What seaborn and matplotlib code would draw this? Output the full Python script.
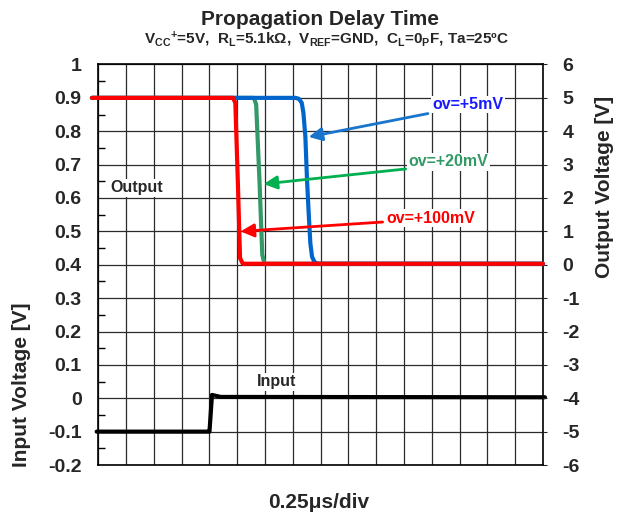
"""Propagation delay time - comparateur, entrée / sortie"""

import numpy as np
import seaborn as sns
import matplotlib.pyplot as plt
from matplotlib.ticker import MultipleLocator

# temps en divisions (0.25us/div)
t_red = [-0.23, 4.85, 4.93, 5.02, 5.1, 5.2, 16.0]
v_red = [5.0, 5.0, 4.85, 2.5, 0.2, 0.03, 0.03]

t_green = [-0.23, 5.6, 5.68, 5.8, 5.9, 5.98, 16.0]
v_green = [5.0, 5.0, 4.8, 2.5, 0.3, 0.03, 0.03]

t_blue = [-0.23, 7.1, 7.22, 7.32, 7.38, 7.45, 7.51, 7.57, 7.63, 7.69, 7.78, 7.9, 16.0]
v_blue = [5.0, 5.0, 4.97, 4.85, 4.55, 3.84, 2.54, 1.54, 0.64, 0.24, 0.08, 0.03, 0.03]

t_in = [-0.06, 3.97, 4.0, 4.09, 4.4, 16.07]
v_in = [-0.1, -0.1, -0.1, 0.01, 0.004, 0.003]

left_ticks = [-0.2, -0.1, 0, 0.1, 0.2, 0.3, 0.4, 0.5, 0.6, 0.7, 0.8, 0.9, 1]
right_ticks = [-6, -5, -4, -3, -2, -1, 0, 1, 2, 3, 4, 5, 6]

sns.set_style("white")
plt.rcParams['font.family'] = ['Liberation Sans', 'DejaVu Sans']
plt.rcParams['font.weight'] = 'bold'
plt.rcParams['mathtext.default'] = 'regular'

fig = plt.figure(figsize=(6.31, 5.18), dpi=100)
ax = fig.add_axes([0.1558, 0.1023, 0.7047, 0.7732])
ax2 = ax.twinx()

# axe gauche : entrée
ax.set_xlim(0, 16)
ax.set_ylim(-0.2, 1)
ax.set_xticks(np.arange(0, 17, 1))
ax.set_xticklabels([])
ax.set_yticks(left_ticks)
ax.set_yticklabels([f"{v:g}" for v in left_ticks], fontsize=14, fontweight='bold')
ax.yaxis.set_minor_locator(MultipleLocator(0.05))
ax.tick_params(axis='x', length=0)
ax.tick_params(axis='y', which='major', length=0, pad=12)
ax.tick_params(axis='y', which='minor', direction='in', length=5, width=1, color='black')
ax.grid(True, color='#2b2b2b', lw=0.9)
for s in ax.spines.values():
    s.set_color('black')
    s.set_linewidth(1.2)

sns.lineplot(x=t_in, y=v_in, ax=ax, color='black', lw=3, sort=False, estimator=None, clip_on=False)
ax.text(6.4, 0.05, "Input", fontsize=11.5, fontweight='bold', ha='center', va='center',
        bbox=dict(facecolor='white', edgecolor='none', pad=1))

# axe droit : sortie
ax2.set_ylim(-6, 6)
ax2.set_yticks(right_ticks)
ax2.set_yticklabels([f"{v:g}" for v in right_ticks], fontsize=14, fontweight='bold')
ax2.tick_params(axis='y', length=3, pad=11)
ax2.grid(False)
for s in ax2.spines.values():
    s.set_visible(False)

sns.lineplot(x=t_green, y=v_green, ax=ax2, color='#339966', lw=3, sort=False, estimator=None, clip_on=False)
sns.lineplot(x=t_blue, y=v_blue, ax=ax2, color='#0066cc', lw=3, sort=False, estimator=None, clip_on=False)
sns.lineplot(x=t_red, y=v_red, ax=ax2, color='#ff0000', lw=3, sort=False, estimator=None, clip_on=False)

ax2.text(1.39, 2.3, "Output", fontsize=11.5, fontweight='bold', ha='center', va='center',
         bbox=dict(facecolor='white', edgecolor='none', pad=1))

## les annotations ov=...
annots = [("ov=+5mV", (7.57, 3.83), (11.86, 4.53), (13.3, 4.8), '#1a1aff', '#1874cd'),
          ("ov=+20mV", (5.95, 2.42), (11.06, 2.87), (12.6, 3.08), '#339966', '#00b050'),
          ("ov=+100mV", (5.12, 1.0), (10.23, 1.28), (11.96, 1.4), '#ff0000', '#ff0000')]
for txt, tip, tail, pos, c_txt, c_arr in annots:
    ax2.annotate("", xy=tip, xytext=tail,
                 arrowprops=dict(arrowstyle='-|>,head_length=0.8,head_width=0.4', color=c_arr, lw=2,
                                 shrinkA=0, shrinkB=0))
    ax2.text(pos[0], pos[1], txt, color=c_txt, fontsize=11.5, fontweight='bold', ha='center', va='center',
             bbox=dict(facecolor='white', edgecolor='none', pad=1))

ax.set_ylabel("")
ax2.set_ylabel("")
fig.text(22 / 631, 1 - 385 / 518, "Input Voltage [V]", rotation=90, fontsize=15, fontweight='bold',
         ha='center', va='center')
fig.text(605 / 631, 1 - 187 / 518, "Output Voltage [V]", rotation=90, fontsize=15, fontweight='bold',
         ha='center', va='center')

fig.text(0.507, 0.963, "Propagation Delay Time", fontsize=15, fontweight='bold', ha='center', va='center')
fig.text(0.517, 0.924, r"V$_{CC}$$^{+}$=5V,  R$_{L}$=5.1kΩ,  V$_{REF}$=GND,  C$_{L}$=0$_{P}$F, Ta=25ºC",
         fontsize=11, fontweight='bold', ha='center', va='center')
fig.text(0.5055, 0.029, "0.25μs/div", fontsize=15, fontweight='bold', ha='center', va='center')

fig.savefig("out.png", dpi=100)
